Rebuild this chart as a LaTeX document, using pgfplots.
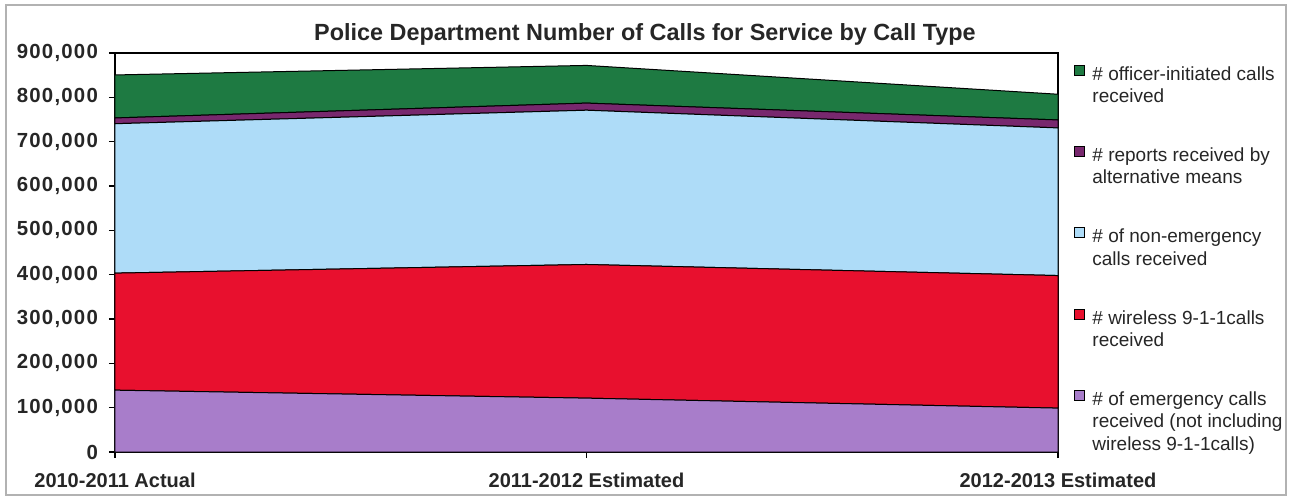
\documentclass[border=0pt]{standalone}
\usepackage{fontspec}
\setmainfont{Liberation Sans}
\usepackage{pgfplots}
\pgfplotsset{compat=1.18}
\definecolor{cOff}{RGB}{30,122,66}
\definecolor{cRep}{RGB}{120,40,110}
\definecolor{cNon}{RGB}{174,220,248}
\definecolor{cWir}{RGB}{232,16,46}
\definecolor{cEme}{RGB}{168,125,202}
\pgfplotsset{
  legtwo/.style={legend image code/.code={\draw[##1,draw=black,line width=0.5pt] (0pt,5.4pt) rectangle (5pt,10.4pt);}},
  legthree/.style={legend image code/.code={\draw[##1,draw=black,line width=0.5pt] (0pt,11pt) rectangle (5pt,16pt);}},
}
\begin{document}
\begin{tikzpicture}
\useasboundingbox (-57.5pt,-24pt) rectangle (588.5pt,226pt);
\draw[gray!60, line width=0.8pt] (-54.5pt,-21.5pt) rectangle (585.5pt,223.5pt);
\begin{axis}[
  scale only axis, width=471.5pt, height=199.5pt,
  at={(0pt,0pt)}, anchor=south west,
  xmin=0, xmax=2, ymin=0, ymax=900000,
  xtick={0,1,2},
  xticklabels={2010-2011 Actual, 2011-2012 Estimated, 2012-2013 Estimated},
  ytick={0,100000,200000,300000,400000,500000,600000,700000,800000,900000},
  scaled y ticks=false,
  ticklabel style={font=\fontsize{10}{12}\selectfont\bfseries, text=black!85},
  yticklabel style={font=\fontsize{10.2}{12}\selectfont\bfseries\addfontfeatures{LetterSpace=6}, xshift=-2pt,
    /pgf/number format/.cd, fixed, precision=0, 1000 sep={,}, assume math mode=true},
  xticklabel style={yshift=-4pt},
  tick align=outside, tick pos=left, major tick length=3pt,
  tick style={black, line width=0.6pt},
  axis line style={line width=0.8pt},
  stack plots=y,
  title={Police Department Number of Calls for Service by Call Type},
  title style={at={(0.562,1)}, anchor=base, yshift=0.3pt, font=\fontsize{11.7}{13}\selectfont\bfseries, text=black!85},
  reverse legend,
  legend cell align=left,
  legend style={at={(1.017,0.972)}, anchor=north west, draw=none, fill=none,
    inner sep=0pt, row sep=20.2pt, column sep=3.5pt,
    font=\fontsize{9.5}{11.25}\selectfont, text=black!85, nodes={inner sep=0pt},
    cells={align=left}},
]
\addplot[fill=cEme, draw=black, line width=0.5pt, mark=none, legthree] coordinates {(0,139500) (1,121500) (2,99000)} \closedcycle;
\addlegendentry{\# of emergency calls\\received (not including\\wireless 9-1-1calls)}
\addplot[fill=cWir, draw=black, line width=0.5pt, mark=none, legtwo] coordinates {(0,264000) (1,301500) (2,299000)} \closedcycle;
\addlegendentry{\# wireless 9-1-1calls\\received}
\addplot[fill=cNon, draw=black, line width=0.5pt, mark=none, legtwo] coordinates {(0,337000) (1,348000) (2,333000)} \closedcycle;
\addlegendentry{\# of non-emergency\\calls received}
\addplot[fill=cRep, draw=black, line width=0.5pt, mark=none, legtwo] coordinates {(0,13000) (1,16000) (2,18000)} \closedcycle;
\addlegendentry{\# reports received by\\alternative means}
\addplot[fill=cOff, draw=black, line width=0.5pt, mark=none, legtwo] coordinates {(0,97000) (1,85000) (2,58000)} \closedcycle;
\addlegendentry{\# officer-initiated calls\\received}
\end{axis}
\end{tikzpicture}
\end{document}
